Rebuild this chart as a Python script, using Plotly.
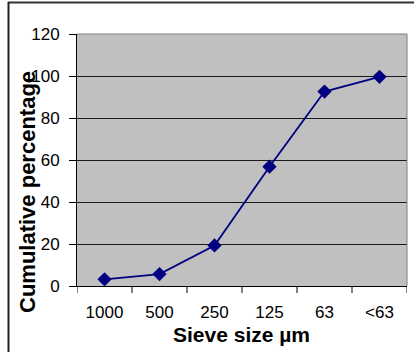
import plotly.graph_objects as go

sieve_sizes = ["1000", "500", "250", "125", "63", "<63"]
cumulative_pct = [3.2, 5.7, 19.3, 56.8, 92.6, 99.6]
y_ticks = [0, 20, 40, 60, 80, 100, 120]

W, H = 414, 352
ml, mr, mt, mb = 77, 7, 34, 66
pw, ph = W - ml - mr, H - mt - mb


def px_x(x):
    return (x - ml) / pw


def px_y(y):
    return (H - mb - y) / ph


fig = go.Figure()
fig.add_trace(go.Scatter(
    x=list(range(len(sieve_sizes))), y=cumulative_pct,
    mode="lines+markers",
    line=dict(color="#000080", width=1.8),
    marker=dict(symbol="diamond", size=11, color="#000080"),
    showlegend=False, hoverinfo="skip",
))

font = "Liberation Sans, Arial, sans-serif"
fig.update_layout(
    width=W, height=H,
    margin=dict(l=ml, r=mr, t=mt, b=mb),
    paper_bgcolor="white", plot_bgcolor="#C0C0C0",
    font=dict(family=font, size=17, color="black"),
    xaxis=dict(
        range=[-0.5, len(sieve_sizes) - 0.5],
        tickmode="array", tickvals=list(range(len(sieve_sizes))), ticktext=sieve_sizes,
        ticks="", showgrid=False, zeroline=False,
        showline=True, linecolor="black", linewidth=1,
        tickfont=dict(size=17), ticklabelstandoff=11,
    ),
    yaxis=dict(
        range=[0, 120], tickvals=y_ticks,
        ticks="outside", ticklen=7, tickcolor="black",
        showgrid=True, gridcolor="#1a1a1a", gridwidth=1, zeroline=False,
        showline=True, linecolor="black", linewidth=1,
        tickfont=dict(size=17), ticklabelstandoff=6,
    ),
)

# axis titles
fig.add_annotation(text="<b>Sieve size µm</b>", xref="paper", yref="paper",
                   x=px_x(241), y=px_y(334), xanchor="center", yanchor="middle",
                   showarrow=False, font=dict(family=font, size=21, color="black"))
fig.add_annotation(text="<b>Cumulative percentage</b>", xref="paper", yref="paper",
                   x=px_x(27), y=px_y(192), xanchor="center", yanchor="middle",
                   textangle=-90, showarrow=False,
                   font=dict(family=font, size=22, color="black"))

# x-axis tick marks at category boundaries
for i in range(len(sieve_sizes) + 1):
    fig.add_shape(type="line", xref="x", yref="paper",
                  x0=i - 0.5, x1=i - 0.5, y0=0, y1=-7 / ph,
                  line=dict(color="black", width=1))

# plot area border (top & right, gray)
fig.add_shape(type="line", xref="paper", yref="paper", x0=0, x1=1, y0=1, y1=1,
              line=dict(color="#808080", width=1))
fig.add_shape(type="line", xref="paper", yref="paper", x0=1, x1=1, y0=0, y1=1,
              line=dict(color="#808080", width=1))

# outer chart frame: top and left lines
fig.add_shape(type="line", xref="paper", yref="paper",
              x0=px_x(8), x1=px_x(414), y0=px_y(2.5), y1=px_y(2.5),
              line=dict(color="#333333", width=2))
fig.add_shape(type="line", xref="paper", yref="paper",
              x0=px_x(8.5), x1=px_x(8.5), y0=px_y(2), y1=px_y(352),
              line=dict(color="#222222", width=2))

fig.write_html("out.html")
